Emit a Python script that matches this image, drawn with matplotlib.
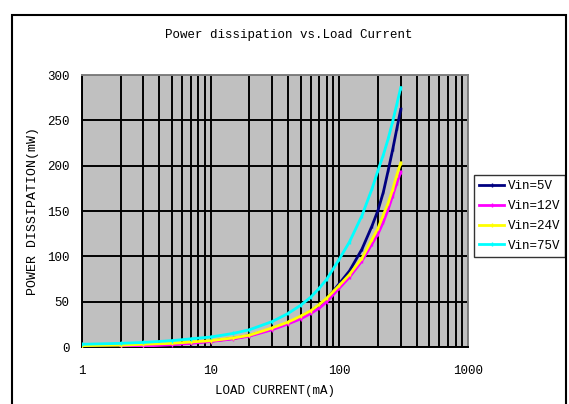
import matplotlib
matplotlib.use("Agg")
import matplotlib.pyplot as plt
from matplotlib.patches import Rectangle
from matplotlib.ticker import FixedLocator, NullFormatter

plt.rcParams['font.family'] = ['Liberation Mono', 'DejaVu Sans']

# load current (mA)
current = [1, 2, 3, 5, 7, 10, 15, 20, 30, 40, 50, 60, 70, 80, 100,
           120, 150, 180, 200, 220, 240, 260, 280, 300]

p_5v = [1, 1.5, 2, 3, 4.5, 6.5, 9.5, 12.5, 20, 26.5, 33, 39.5, 46, 53, 70,
        84, 108, 134, 151, 171, 195, 218, 241, 262]
p_12v = [None, 0.5, 1, 2.5, 4, 6, 9, 12, 19, 25.5, 31, 37, 43, 50, 65,
         77, 95, 114, 125, 138, 152, 167, 181, 193]
p_24v = [1.5, 2, 3, 4, 5.5, 7, 10, 13, 21, 27.5, 34, 40, 47, 54, 68,
         80, 98, 119, 131, 146, 159, 174, 190, 203]
p_75v = [3, 4, 5, 7, 9, 11, 15, 19, 28, 37, 46, 55, 65, 75, 97,
         116, 145, 175, 195, 212, 230, 249, 268, 286]

series = [
    ('Vin=5V', p_5v, '#000080'),
    ('Vin=12V', p_12v, '#FF00FF'),
    ('Vin=24V', p_24v, '#FFFF00'),
    ('Vin=75V', p_75v, '#00FFFF'),
]

fig = plt.figure(figsize=(5.69, 4.04), dpi=100)
ax = fig.add_axes([82 / 569, 1 - 347 / 404, (468 - 82) / 569, (347 - 75) / 404])
ax.set_facecolor('#C0C0C0')

for name, vals, col in series:
    xs = [c for c, v in zip(current, vals) if v is not None]
    ys = [v for v in vals if v is not None]
    ax.plot(xs, ys, color=col, lw=2, marker='|', ms=3, mew=1, label=name, zorder=3)

ax.set_xscale('log')
ax.set_xlim(1, 1000)
ax.set_ylim(0, 300)
ax.set_yticks(range(0, 301, 50))
ax.xaxis.set_major_locator(FixedLocator([1, 10, 100, 1000]))
ax.xaxis.set_minor_locator(FixedLocator([m * d for d in (1, 10, 100) for m in range(2, 10)]))
ax.xaxis.set_minor_formatter(NullFormatter())
ax.set_xticklabels(['1', '10', '100', '1000'])

ax.grid(True, which='both', axis='x', color='black', lw=1.4)
ax.grid(True, which='major', axis='y', color='black', lw=1.4)
ax.set_axisbelow(True)
ax.tick_params(which='both', length=0, labelsize=9)
ax.tick_params(axis='x', pad=13)
ax.tick_params(axis='y', pad=9)
for s in ['left', 'bottom']:
    ax.spines[s].set_color('black')
    ax.spines[s].set_linewidth(1.4)
for s in ['top', 'right']:
    ax.spines[s].set_color('#808080')
    ax.spines[s].set_linewidth(1.4)

ax.set_xlabel('LOAD CURRENT(mA)', fontsize=9, labelpad=6)
ax.set_ylabel('POWER DISSIPATION(mW)', fontsize=9.5, labelpad=6)
fig.text(289 / 569, 1 - 35 / 404, 'Power dissipation vs.Load Current',
         ha='center', va='center', fontsize=9)

leg = ax.legend(loc='center left', bbox_to_anchor=(474 / 569, 1 - 216 / 404),
                bbox_transform=fig.transFigure, fontsize=9, frameon=True,
                fancybox=False, edgecolor='black', borderpad=0.4,
                handlelength=2.0, handletextpad=0.3, labelspacing=0.62,
                borderaxespad=0)
leg.get_frame().set_linewidth(1.0)

# outer chart frame
fig.patches.append(Rectangle((12 / 569, -0.05), (566 - 12) / 569, 1.05 - 15 / 404,
                             transform=fig.transFigure, fill=False,
                             edgecolor='black', lw=1.5))

fig.savefig('out.png', dpi=100, facecolor='white')
